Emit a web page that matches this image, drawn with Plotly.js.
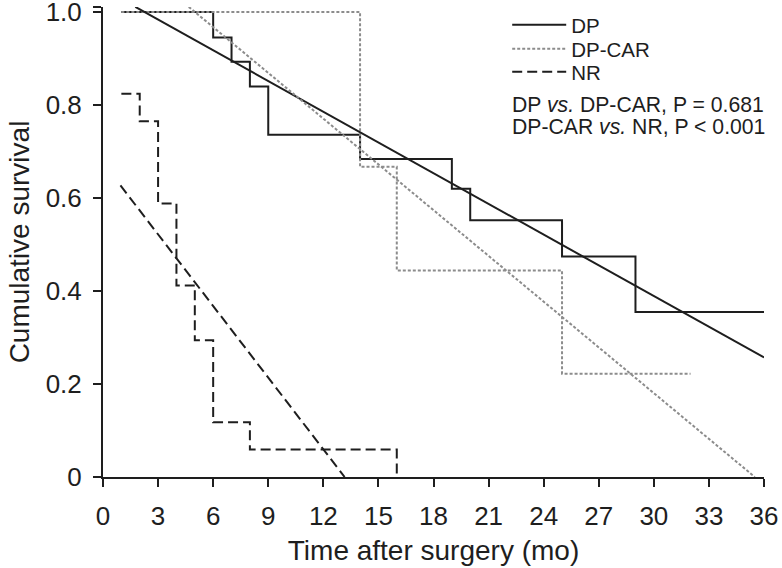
<!DOCTYPE html>
<html>
<head>
<meta charset="utf-8">
<script src="https://cdn.plot.ly/plotly-3.0.1.min.js"></script>
<style>
html,body{margin:0;padding:0;background:#fff;}
#chart{width:782px;height:568px;}
</style>
</head>
<body>
<div id="chart"></div>
<script>
// Kaplan-Meier step data (time in months, cumulative survival)
var dpTime  = [1, 6, 7, 8, 9, 14, 19, 20, 25, 29, 36];
var dpSurv  = [1.0, 0.945, 0.893, 0.84, 0.736, 0.684, 0.62, 0.552, 0.474, 0.355, 0.355];

var carTime = [1, 14, 16, 25, 32];
var carSurv = [1.0, 0.667, 0.444, 0.222, 0.222];

var nrTime  = [1, 2, 3, 4, 5, 6, 8, 16, 16];
var nrSurv  = [0.824, 0.765, 0.588, 0.412, 0.294, 0.118, 0.059, 0.059, 0];

// Linear trend lines
var dpFitX  = [1.76, 36];
var dpFitY  = [1.011, 0.257];
var carFitX = [4.67, 35.5];
var carFitY = [1.011, 0.0];
var nrFitX  = [0.95, 13.16];
var nrFitY  = [0.627, 0.0];

var seriesNames = ['DP', 'DP-CAR', 'NR'];
var statLines = ['DP <i>vs.</i> DP-CAR, P = 0.681', 'DP-CAR <i>vs.</i> NR, P < 0.001'];

var xTicks = [0, 3, 6, 9, 12, 15, 18, 21, 24, 27, 30, 33, 36];
var yTicks = [0, 0.2, 0.4, 0.6, 0.8, 1.0, 1.0107];
var yTickText = ['0', '0.2', '0.4', '0.6', '0.8', '1.0', ''];

var FONT = 'Liberation Sans, Arial, Helvetica, sans-serif';
var BLACK = '#1e1e1e';
var GRAY = '#8c8c8c';

var traces = [
  {x: dpTime, y: dpSurv, name: seriesNames[0], mode: 'lines', line: {shape: 'hv', color: BLACK, width: 2}, legend: 'legend'},
  {x: carTime, y: carSurv, name: seriesNames[1], mode: 'lines', line: {shape: 'hv', color: GRAY, width: 2, dash: '3px,2px'}, legend: 'legend2'},
  {x: nrTime, y: nrSurv, name: seriesNames[2], mode: 'lines', line: {shape: 'hv', color: BLACK, width: 2, dash: '10px,5px'}, legend: 'legend3'},
  {x: dpFitX, y: dpFitY, mode: 'lines', showlegend: false, line: {color: BLACK, width: 2}},
  {x: carFitX, y: carFitY, mode: 'lines', showlegend: false, line: {color: GRAY, width: 2, dash: '3px,2px'}},
  {x: nrFitX, y: nrFitY, mode: 'lines', showlegend: false, line: {color: BLACK, width: 2, dash: '10px,5px'}}
];

function legendAt(yv) {
  return {x: 0.6115, y: yv, xanchor: 'left', yanchor: 'middle', bgcolor: 'rgba(0,0,0,0)',
          font: {family: FONT, size: 20.5, color: BLACK}, itemwidth: 54, borderwidth: 0};
}

var layout = {
  width: 782, height: 568,
  margin: {l: 103, r: 18, t: 5, b: 91},
  paper_bgcolor: '#fff', plot_bgcolor: '#fff',
  font: {family: FONT, color: BLACK},
  xaxis: {
    range: [0, 36], tickvals: xTicks, ticktext: xTicks.map(String),
    showgrid: false, zeroline: false, showline: true, linecolor: BLACK, linewidth: 2,
    ticks: 'outside', ticklen: 8, tickwidth: 2, tickcolor: BLACK,
    ticklabelstandoff: 7,
    tickfont: {family: FONT, size: 26, color: BLACK},
    title: {text: 'Time after surgery (mo)', font: {family: FONT, size: 28, color: BLACK}, standoff: 10},
    fixedrange: true
  },
  yaxis: {
    range: [0, 1.0107], tickvals: yTicks, ticktext: yTickText,
    showgrid: false, zeroline: false, showline: true, linecolor: BLACK, linewidth: 2,
    ticks: 'outside', ticklen: 8, tickwidth: 2, tickcolor: BLACK,
    ticklabelstandoff: 6, ticklabeloverflow: 'allow',
    tickfont: {family: FONT, size: 26, color: BLACK},
    title: {text: 'Cumulative survival', font: {family: FONT, size: 28, color: BLACK}, standoff: 8},
    fixedrange: true
  },
  legend: legendAt(0.962),
  legend2: legendAt(0.911),
  legend3: legendAt(0.862),
  annotations: [
    {xref: 'paper', yref: 'paper', x: 0.6157, y: 0.7916, xanchor: 'left', yanchor: 'middle', showarrow: false,
     text: statLines[0], font: {family: FONT, size: 21.2, color: BLACK}},
    {xref: 'paper', yref: 'paper', x: 0.6157, y: 0.7456, xanchor: 'left', yanchor: 'middle', showarrow: false,
     text: statLines[1], font: {family: FONT, size: 21.2, color: BLACK}}
  ],
  showlegend: true
};

Plotly.newPlot('chart', traces, layout, {displayModeBar: false, staticPlot: true});
</script>
</body>
</html>
